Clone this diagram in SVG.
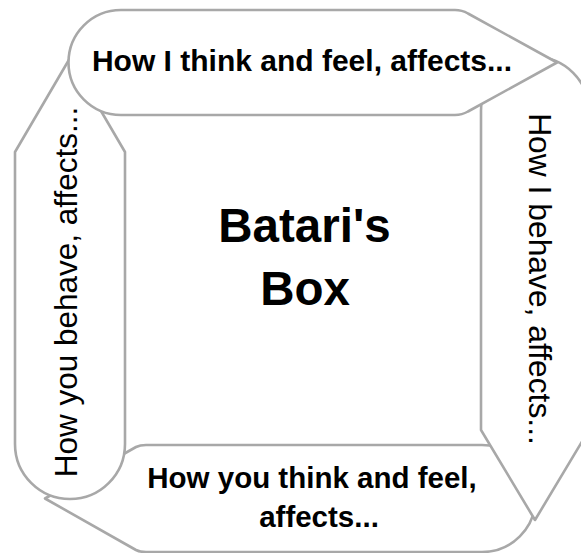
<svg xmlns="http://www.w3.org/2000/svg" width="581" height="553" viewBox="0 0 581 553">
<style>
.shape{fill:#ffffff;stroke:#a8a8a8;stroke-width:2.6;stroke-linejoin:round}
.b{font-family:"Liberation Sans",Arial,sans-serif;font-weight:bold;fill:#000;text-anchor:middle}
.r{font-family:"Liberation Sans",Arial,sans-serif;fill:#000;text-anchor:middle}
</style>
<rect width="581" height="553" fill="#ffffff"/>
<g id="bottom">
<path class="shape" d="M45,498.5 L136,447 Q140,445 146,445 L482,445 A53.5,53.5 0 0 1 482,552 L146,552 Q140,552 136,550 Z"/>
<text class="b" x="312" y="488" font-size="29.5">How you think and feel,</text>
<text class="b" x="319" y="527" font-size="29.5">affects...</text>
</g>
<g id="left">
<path class="shape" d="M15,444 L15,152 L70,58 L125,152 L125,444 A55,55 0 0 1 15,444 Z"/>
<text class="r" transform="translate(77,292) rotate(-90)" font-size="31.5">How you behave, affects...</text>
</g>
<g id="right">
<path class="shape" d="M481,111 A54,54 0 0 1 589,111 L589,430 L535,520 L481,430 Z"/>
<text class="r" transform="translate(529,279) rotate(90)" font-size="31.8">How I behave, affects...</text>
</g>
<g id="top">
<path class="shape" d="M121,10 L455,10 Q462,10 468,13.5 L557,62.5 L468,111.5 Q462,115 455,115 L121,115 A52.5,52.5 0 0 1 121,10 Z"/>
<text class="b" x="302" y="71" font-size="30">How I think and feel, affects...</text>
</g>
<g id="center">
<text class="b" x="304.5" y="242" font-size="47.5">Batari's</text>
<text class="b" x="305" y="305" font-size="47.5">Box</text>
</g>
</svg>
